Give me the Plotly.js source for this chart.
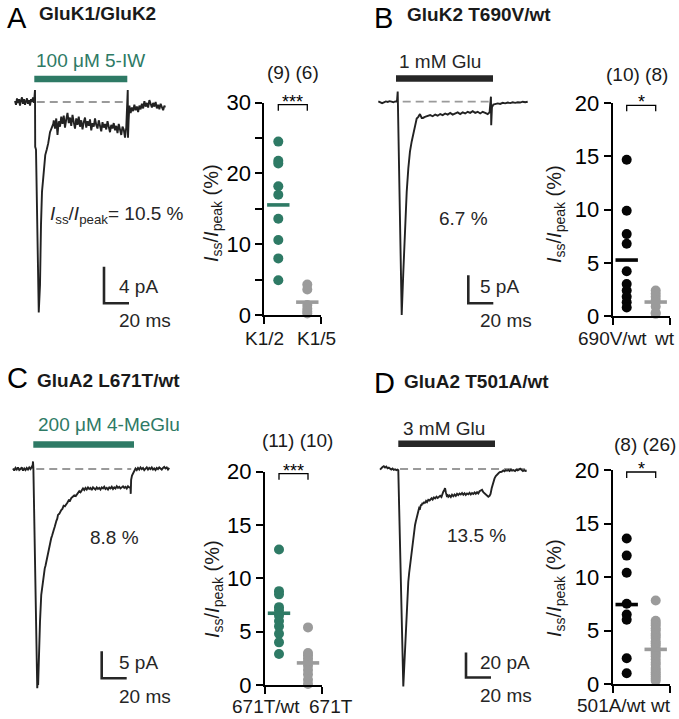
<!DOCTYPE html>
<html><head><meta charset="utf-8">
<script src="https://cdn.plot.ly/plotly-3.0.1.min.js"></script>
<style>html,body{margin:0;padding:0;background:#fff}</style>
</head><body><div id="chart" style="width:679px;height:719px"></div>
<script>
// ================= DATA =================
const panelLetters = ['A','B','C','D'];
const panelTitles = ['GluK1/GluK2','GluK2 T690V/wt','GluA2 L671T/wt','GluA2 T501A/wt'];
const agonistLabels = ['100 μM 5-IW','1 mM Glu','200 μM 4-MeGlu','3 mM Glu'];
const ssRatioLabels = ['10.5','6.7','8.8','13.5'];
const scaleBarMs = [20,20,20,20];
const scaleBarPA = [4,5,5,20];
const groupNames = [['K1/2','K1/5'],['690V/wt','wt'],['671T/wt','671T'],['501A/wt','wt']];
const significance = ['***','*','***','*'];
const yAxisTicks = [[0,10,20,30],[0,5,10,15,20],[0,5,10,15,20],[0,5,10,15,20]];
const yAxisMinorTicks = [[5,15,25],[],[],[]];

// Current traces (time in ms, current in pA)
const traceA_t = [-16,-15.2,-14.4,-13.6,-12.8,-12,-11.2,-10.4,-9.6,-8.8,-8,-7.2,-6.4,-5.6,-4.8,-4,-3.2,-2.4,-1.6,-0.8,
 0,0.15,0.8,3.0,4.0,4.8,5.6,6.6,7.4,8.2,9.4,10.6,12.0,13.4,14.6,
 15,16,17,18,19,20,21,22,23,24,25,26,27,28,29,30,31,32,33,34,35,36,37,38,39,40,41,42,43,44,45,46,47,48,49,50,
 51,52,53,54,55,56,57,58,59,60,61,62,63,64,65,66,67,68,69,70,71,72,73,
 74.2,74.4,74.9,75.5,76.5,77.5,78.5,79.5,80.5,81.5,82.5,83.5,84.5,85.5,86.5,87.5,88.5,89.5,90.5,91.5,92.5,93.5,
 94.5,95.5,96.5,97.5,98.5,99.5,100.5,101.5,102.5,103.5,104];
const traceA_I = [0.1,-0.3,0.4,-0.1,0.3,-0.4,0.2,0.5,-0.2,0.3,-0.3,0.1,0.4,-0.2,0.2,-0.4,0.3,0.0,0.5,-0.1,
 1.3,-4.9,-5.2,-23.0,-20.0,-13.4,-9.8,-8.3,-6.9,-5.8,-5.2,-4.5,-3.3,-2.8,-2.4,
 -2.0,-2.9,-1.8,-3.6,-2.1,-2.7,-1.6,-2.4,-1.5,-2.8,-1.9,-1.2,-2.3,-1.7,-2.6,-1.4,-2.2,-2.9,-1.8,-2.5,-1.6,-2.7,-2.0,-3.0,-2.2,-1.7,
 -2.8,-2.1,-2.6,-1.9,-3.1,-2.3,-2.7,-1.8,-2.5,-2.9,-2.0,-2.6,-3.2,-2.2,-2.8,-2.4,-3.0,-2.1,-2.7,-3.3,-2.5,-2.9,-2.3,-3.1,-2.6,-3.4,
 -2.4,-2.9,-3.6,-2.7,-3.0,-3.9,-2.8,
 1.3,-3.9,-2.0,-0.4,-1.2,-0.6,-1.0,-0.3,-0.9,-0.5,-1.1,-0.4,-0.8,-0.2,-0.7,0.1,-0.5,-0.1,-0.6,0.2,-0.3,-0.6,
 -0.1,-0.5,0.0,-0.7,-0.3,-0.8,-0.2,-0.6,-0.9,-0.4,-0.6];

const traceB_t = [-15.5,-14,-12.5,-11,-9.5,-8,-6.5,-5,-3.5,-2,-0.6,0,0.3,3.2,4.5,5.8,7.2,8.5,9.8,11.2,12.5,13.8,15.2,16.5,17.8,19.2,20.2,21.8,24.5,
 26,28,30,32,34,36,38,40,42,44,46,48,50,52,54,56,58,60,62,64,66,68,70,72,73.5,
 74.6,74.8,75.4,76.5,78,80,82,84,86,88,90,92,94,96,98,100,102,104];
const traceB_I = [0.05,-0.1,-0.25,-0.1,0.05,-0.05,0.1,0,-0.1,0.05,0,1.8,-2.7,-38.1,-30.4,-22.0,-16.1,-11.9,-8.9,-7.1,-5.9,-4.2,-3.0,-2.7,-2.2,-2.9,-2.9,-2.7,-2.5,
 -2.4,-2.6,-2.3,-2.5,-2.2,-2.4,-2.1,-2.3,-2.0,-2.3,-2.1,-1.9,-2.2,-1.9,-2.1,-1.8,-2.0,-1.7,-2.0,-1.8,-2.1,-1.8,-2.0,-2.2,-1.9,
 0.9,-4.2,-1.0,-0.5,-0.4,-0.3,-0.4,-0.2,-0.3,-0.15,-0.25,-0.1,-0.2,-0.1,-0.15,0,-0.1,0.0];

const traceC_t = [-16,-15,-14,-13,-12,-11,-10,-9,-8,-7,-6,-5,-4,-3,-2,-1,-0.4,0,0.3,3.4,3.8,4.1,4.6,5.6,6.6,7.3,8.0,8.7,9.4,10.0,10.6,11.3,12.0,12.7,13.4,14.0,14.6,
 15.3,16.0,16.7,17.4,18.0,18.7,19.4,20.0,21.0,22.0,22.6,23.5,24.5,25.5,26.6,27.6,28.6,29.6,30.6,31.8,33,34.2,35.2,36.0,37,38,39,40,
 41,42,43,44,45,46,47,48,49,50,51,52,53,54,55,56,57,58,59,60,61,62,63,64,65,66,67,68,69,70,71,72,73,74,75,76,77,
 78.0,78.2,78.5,79.2,80.0,81.0,
 82,83,84,85,86,87,88,89,90,91,92,93,94,95,96,97,98,99,100,101,102,103,104,105,106,107,108,109];
const traceC_I = [0.1,-0.3,0.2,-0.1,0.3,-0.2,0.0,0.3,-0.3,0.1,-0.2,0.2,-0.1,0.3,0.0,0.4,0.2,1.4,0.2,-40.6,-39.0,-40.0,-34.4,-28.3,-23.3,-21.8,-20.2,-19.5,-18.4,-17.9,-17.2,-16.8,-15.9,-15.0,-13.8,-13.4,-12.8,
 -12.3,-11.4,-11.2,-10.7,-10.0,-9.6,-9.2,-8.5,-8.3,-7.7,-7.6,-7.4,-6.8,-6.9,-6.4,-6.2,-5.8,-5.9,-5.4,-5.2,-4.9,-5.0,-4.6,-4.5,-4.1,-4.3,-3.9,-3.6,
 -3.9,-3.5,-3.8,-3.4,-3.7,-3.5,-3.9,-3.4,-3.6,-3.8,-3.4,-3.7,-3.5,-3.8,-3.4,-3.6,-3.3,-3.7,-3.5,-3.8,-3.4,-3.6,-3.3,-3.7,-3.4,-3.6,-3.2,-3.5,-3.3,-3.6,-3.4,-3.2,-3.5,-3.3,-3.6,-3.2,-3.4,
 -3.5,-4.6,-2.0,-1.2,-0.9,-0.3,
 0.1,-0.2,0.2,-0.1,0.3,0.0,0.2,-0.2,0.1,0.3,-0.1,0.2,0.0,0.3,-0.1,0.1,-0.2,0.2,0.0,0.3,0.1,-0.1,0.2,0.4,0.1,0.3,-0.1,0.2];

const traceD_t = [-14.6,-13.6,-12.6,-11.6,-10.6,-9.6,-8.6,-7.6,-6.6,-5.6,-4.6,-3.6,-2.6,-1.6,-0.6,0,4.0,5.4,6.7,7.4,8.0,8.7,9.4,10.0,10.7,11.4,12.0,12.7,13.4,14.0,14.7,15.3,16.0,16.7,17.4,18.0,18.7,19.4,20.0,20.7,21.4,22.2,23.0,24.0,25.0,26.0,26.7,27.5,28.5,29.5,30.5,31.5,32.5,33.5,34.5,35.3,36.0,36.7,37.4,38.0,38.8,39.5,
 40,41,42,43,44,45,46,47,48,49,50,51,52,53,54,55,56,57,58,59,60,61,62,63,64,65,66,67,68,69,70,71,72,73,73.8,74.7,75.4,76.0,77,78,78.7,79.5,80.5,81.5,82.7,84,85,86,87,88,89,90,91,92,93.4,94.5,95.5,96.5,97.5,98.7,99.7,100.7,101.7,102.7];
const traceD_I = [-0.5,0.8,1.6,2.2,1.2,1.9,0.6,1.1,0.3,-0.4,0.4,-0.7,-0.2,-0.9,-0.5,-1.0,-174,-143.4,-108.8,-100,-90.2,-83,-76.8,-72,-66.2,-61,-55.4,-50,-44.8,-42,-39.4,-36,-34.2,-31,-31.5,-29,-28.8,-27,-28,-26.2,-27.4,-25.5,-26.4,-24.6,-25.2,-23.6,-23.4,-24.4,-22.8,-23.6,-22.2,-23.2,-22.0,-21.4,-22.4,-19.6,-18.2,-17.0,-15.4,-18.5,-21.5,-21.0,
 -22.2,-21.2,-22.4,-20.6,-21.8,-20.4,-21.5,-19.8,-20.8,-19.6,-20.4,-19.2,-20.6,-19.4,-20.8,-19.6,-20.2,-19.0,-20.4,-19.2,-20.0,-18.8,-19.8,-18.6,-19.6,-17.8,-17.2,-16.6,-18.6,-19.6,-20.6,-21.2,-22.2,-21.4,-20.0,-15.4,-12.5,-10.2,-7.5,-5.6,-4.8,-3.6,-3.0,-2.4,-2.2,-1.2,-1.8,-0.9,-1.4,-0.8,-1.6,-0.6,-1.3,-0.9,-1.6,-0.4,-1.1,-0.6,0.2,-0.8,-1.6,-0.9,-1.5,-1.2];

// Iss/Ipeak (%) per cell
const ratioK1K2 = [24.5,21.8,21.4,18.2,17.0,13.6,10.6,8.0,4.9];
const ratioK1K5 = [4.3,3.6,1.4,0.9,0.5,0.2];
const ratioK2T690V = [14.7,9.9,7.7,6.8,4.2,3.0,2.4,1.8,1.3,0.8];
const ratioK2wt = [2.4,2.1,1.8,1.5,1.3,0.9,0.3,0.2];
const ratioA2L671Twt = [12.7,8.8,8.5,7.3,7.0,6.5,6.0,5.5,4.8,4.0,2.9];
const ratioA2L671T = [5.4,3.0,2.8,2.5,2.2,1.8,1.4,1.0,0.5,0.1];
const ratioA2T501Awt = [13.6,12.0,10.4,7.5,6.5,6.0,2.4,1.0];
const ratioA2wt = [7.8,5.9,5.7,5.5,5.2,5.0,4.7,4.5,4.3,4.0,3.8,3.6,3.3,3.0,2.8,2.6,2.3,2.0,1.8,1.5,1.3,1.1,0.9,0.7,0.5,0.3];

// ================= LAYOUT / STYLE =================
const W = 679, H = 719, PPMS = 1.25;
const FONT = 'Liberation Sans, Arial, Helvetica, sans-serif';
const GREEN = '#2e7a65', GRAY = '#9b9b9b', BLACK = '#050505', INK = '#262626';

const traces = [[traceA_t,traceA_I],[traceB_t,traceB_I],[traceC_t,traceC_I],[traceD_t,traceD_I]];
const groups = [[ratioK1K2,ratioK1K5],[ratioK2T690V,ratioK2wt],[ratioA2L671Twt,ratioA2L671T],[ratioA2T501Awt,ratioA2wt]];
const g1Color = [GREEN,BLACK,GREEN,BLACK];
const barColor = [GREEN,INK,GREEN,INK];

// pixel geometry of each panel
const tc = [
 {x0:35, y0:102, ppa:9.15, left:5, right:200, top:40, bottom:345, dash:[1.4,74.4], sb:[104,303.3], bar:[34.3,127.3,79], lab:[34,60], pct:[48.3,215], sbl:[116.7,286,116.7,320.7]},
 {x0:397.7, y0:101.7, ppa:5.6, left:370, right:560, top:40, bottom:345, dash:[4,74], sb:[468.3,303.3], bar:[396,493,78.5], lab:[397.3,61.7], pct:[436.7,218.3], sbl:[478.3,286,478.3,320.7]},
 {x0:33, y0:469, ppa:5.4, left:5, right:200, top:405, bottom:716, dash:[2.6,78.6], sb:[101.7,678.3], bar:[33.3,134,444.5], lab:[36,424], pct:[88.3,537], sbl:[116.7,662,116.7,696.7]},
 {x0:398.3, y0:469, ppa:1.25, left:370, right:560, top:405, bottom:716, dash:[1.4,102], sb:[466,677.5], bar:[398.3,495,443.8], lab:[401,428], pct:[445,535.8], sbl:[478.3,662,478.3,695]}
];
const sc = [
 {L:264.3, top:102.7, bottom:315, ymax:30, n:[292.5,72.5], lbl:[264,316], lbly:338, ttl:[213,213]},
 {L:612.7, top:103.3, bottom:316, ymax:20, n:[636.7,74.5], lbl:[612,664], lbly:338, ttl:[555,214]},
 {L:265, top:471.7, bottom:685, ymax:20, n:[297.5,440.7], lbl:[266,331], lbly:706, ttl:[213,589]},
 {L:612.7, top:470, bottom:684, ymax:20, n:[644.7,444], lbl:[611.5,660.5], lbly:705, ttl:[555,588]}
];
const letterPos = [[5,18.3],[372,18.3],[5,378.3],[372,383.3]];
const titlePos = [[37,14],[405,14.5],[35,380.5],[402,381.5]];

const px = v => v / W, py = v => 1 - v / H;
const SPX = 29; // px per category unit
const XR = [1 - 14/SPX, 2 + 14/SPX];

const data = [], shapes = [], annotations = [];
const layout = {
  width: W, height: H, margin: {l:0, r:0, t:0, b:0}, showlegend: false,
  paper_bgcolor: '#fff', plot_bgcolor: 'rgba(0,0,0,0)',
  font: {family: FONT, color: '#000', size: 19}
};

function txt(x, y, text, o = {}) {
  annotations.push(Object.assign({x: px(x), y: py(y), xref: 'paper', yref: 'paper', text, showarrow: false,
    xanchor: 'left', yanchor: 'middle', font: {family: FONT, size: 19, color: '#262626'}}, o));
}
const mean = a => a.reduce((s, v) => s + v, 0) / a.length;

for (let i = 0; i < 4; i++) {
  const t = tc[i], s = sc[i];
  const ta = 2*i + 1, sa = 2*i + 2;
  const tx = 'x' + (ta === 1 ? '' : ta), ty = 'y' + (ta === 1 ? '' : ta);
  const sx = 'x' + sa, sy = 'y' + sa;
  // trace axes
  layout['xaxis' + (ta === 1 ? '' : ta)] = {domain: [px(t.left), px(t.right)], range: [(t.left - t.x0)/PPMS, (t.right - t.x0)/PPMS], visible: false, anchor: ty};
  layout['yaxis' + (ta === 1 ? '' : ta)] = {domain: [py(t.bottom), py(t.top)], range: [(t.y0 - t.bottom)/t.ppa, (t.y0 - t.top)/t.ppa], visible: false, anchor: tx};
  data.push({type: 'scatter', mode: 'lines', x: traces[i][0], y: traces[i][1], xaxis: tx, yaxis: ty,
    line: {color: '#222', width: 1.9}, cliponaxis: false, hoverinfo: 'skip'});
  // baseline dashed
  shapes.push({type: 'line', xref: tx, yref: ty, x0: t.dash[0], x1: t.dash[1], y0: 0, y1: 0, layer: 'below',
    line: {color: '#9a9a9a', width: 1.8, dash: '8px,5px'}});
  // agonist application bar
  shapes.push({type: 'rect', xref: 'paper', yref: 'paper', x0: px(t.bar[0]), x1: px(t.bar[1]), y0: py(t.bar[2] + 3.2), y1: py(t.bar[2] - 3.2),
    fillcolor: barColor[i], line: {width: 0}});
  txt(t.lab[0], t.lab[1], agonistLabels[i], {font: {family: FONT, size: 19, color: barColor[i] === GREEN ? GREEN : '#262626'}});
  // scale bar
  const cx = (t.sb[0] - t.x0)/PPMS, cy = (t.y0 - t.sb[1])/t.ppa;
  shapes.push({type: 'path', xref: tx, yref: ty,
    path: `M ${cx},${cy + scaleBarPA[i]} L ${cx},${cy} L ${cx + scaleBarMs[i]},${cy}`,
    line: {color: INK, width: 2.6}});
  txt(t.sbl[0], t.sbl[1], scaleBarPA[i] + ' pA');
  txt(t.sbl[2], t.sbl[3], scaleBarMs[i] + ' ms');
  // steady state label
  const pctText = (i === 0 ? '<i>I</i><sub>ss</sub>/<i>I</i><sub>peak</sub>= ' : '') + ssRatioLabels[i] + ' %';
  txt(t.pct[0], t.pct[1], pctText);
  // panel letter + title
  txt(letterPos[i][0], letterPos[i][1], panelLetters[i], {font: {family: FONT, size: 29, color: '#000'}});
  txt(titlePos[i][0], titlePos[i][1], '<b>' + panelTitles[i] + '</b>', {font: {family: FONT, size: 19, color: '#1a1a1a'}});

  // scatter axes
  layout['xaxis' + sa] = {domain: [px(s.L), px(s.L + 57)], range: XR, anchor: sy, showline: true, linecolor: '#000', linewidth: 2,
    ticks: 'outside', ticklen: 7, tickwidth: 2, tickcolor: '#000', tickvals: [XR[0] + 0.001, XR[1] - 0.001], showticklabels: false,
    showgrid: false, zeroline: false};
  const ya = {domain: [py(s.bottom), py(s.top)], range: [0, s.ymax], anchor: sx, showline: true, linecolor: '#000', linewidth: 2,
    ticks: 'outside', ticklen: 7, tickwidth: 2, tickcolor: '#000', tickvals: yAxisTicks[i], ticktext: yAxisTicks[i].map(String),
    tickfont: {family: FONT, size: 22, color: '#000'}, showgrid: false, zeroline: false};
  if (yAxisMinorTicks[i].length) ya.minor = {tickvals: yAxisMinorTicks[i], ticks: 'outside', ticklen: 7, tickwidth: 2, tickcolor: '#000', showgrid: false};
  layout['yaxis' + sa] = ya;
  const [a, b] = groups[i];
  data.push({type: 'scatter', mode: 'markers', x: a.map(() => 1), y: a, xaxis: sx, yaxis: sy, cliponaxis: false,
    marker: {color: g1Color[i], size: 10}, hoverinfo: 'skip'});
  data.push({type: 'scatter', mode: 'markers', x: b.map(() => 2), y: b, xaxis: sx, yaxis: sy, cliponaxis: false,
    marker: {color: GRAY, size: 10}, hoverinfo: 'skip'});
  data.push({type: 'scatter', mode: 'markers', x: [1, 2], y: [mean(a), mean(b)], xaxis: sx, yaxis: sy, cliponaxis: false,
    marker: {symbol: 'line-ew', size: 16, line: {width: 3.6, color: [g1Color[i], GRAY]}}, hoverinfo: 'skip'});
  // significance bracket
  const yt = py(s.top + 2), yb = py(s.top + 8);
  shapes.push({type: 'path', xref: sx, yref: 'paper', path: `M 1,${yb} L 1,${yt} L 2,${yt} L 2,${yb}`, line: {color: '#000', width: 1.3}});
  annotations.push({x: 1.5, y: yt, xref: sx, yref: 'paper', text: significance[i], showarrow: false, xanchor: 'center', yanchor: 'bottom',
    font: {family: FONT, size: 18, color: '#000'}, yshift: -9});
  // n labels
  annotations.push({x: px(s.n[0]), y: py(s.n[1]), xref: 'paper', yref: 'paper', showarrow: false, xanchor: 'center', yanchor: 'middle',
    text: `(${a.length}) (${b.length})`, font: {family: FONT, size: 19, color: '#1a1a1a'}});
  // category labels
  groupNames[i].forEach((g, k) => annotations.push({x: px(s.lbl[k]), y: py(s.lbly), xref: 'paper', yref: 'paper', showarrow: false,
    xanchor: 'center', yanchor: 'middle', text: g, font: {family: FONT, size: 19, color: '#1a1a1a'}}));
  // y title
  annotations.push({x: px(s.ttl[0]), y: py(s.ttl[1]), xref: 'paper', yref: 'paper', showarrow: false, textangle: -90,
    xanchor: 'center', yanchor: 'middle', text: '<i>I</i><sub>ss</sub>/<i>I</i><sub>peak</sub> (%)', font: {family: FONT, size: 20, color: '#1a1a1a'}});
}
layout.shapes = shapes;
layout.annotations = annotations;
Plotly.newPlot('chart', data, layout, {staticPlot: true, displayModeBar: false});
</script></body></html>
